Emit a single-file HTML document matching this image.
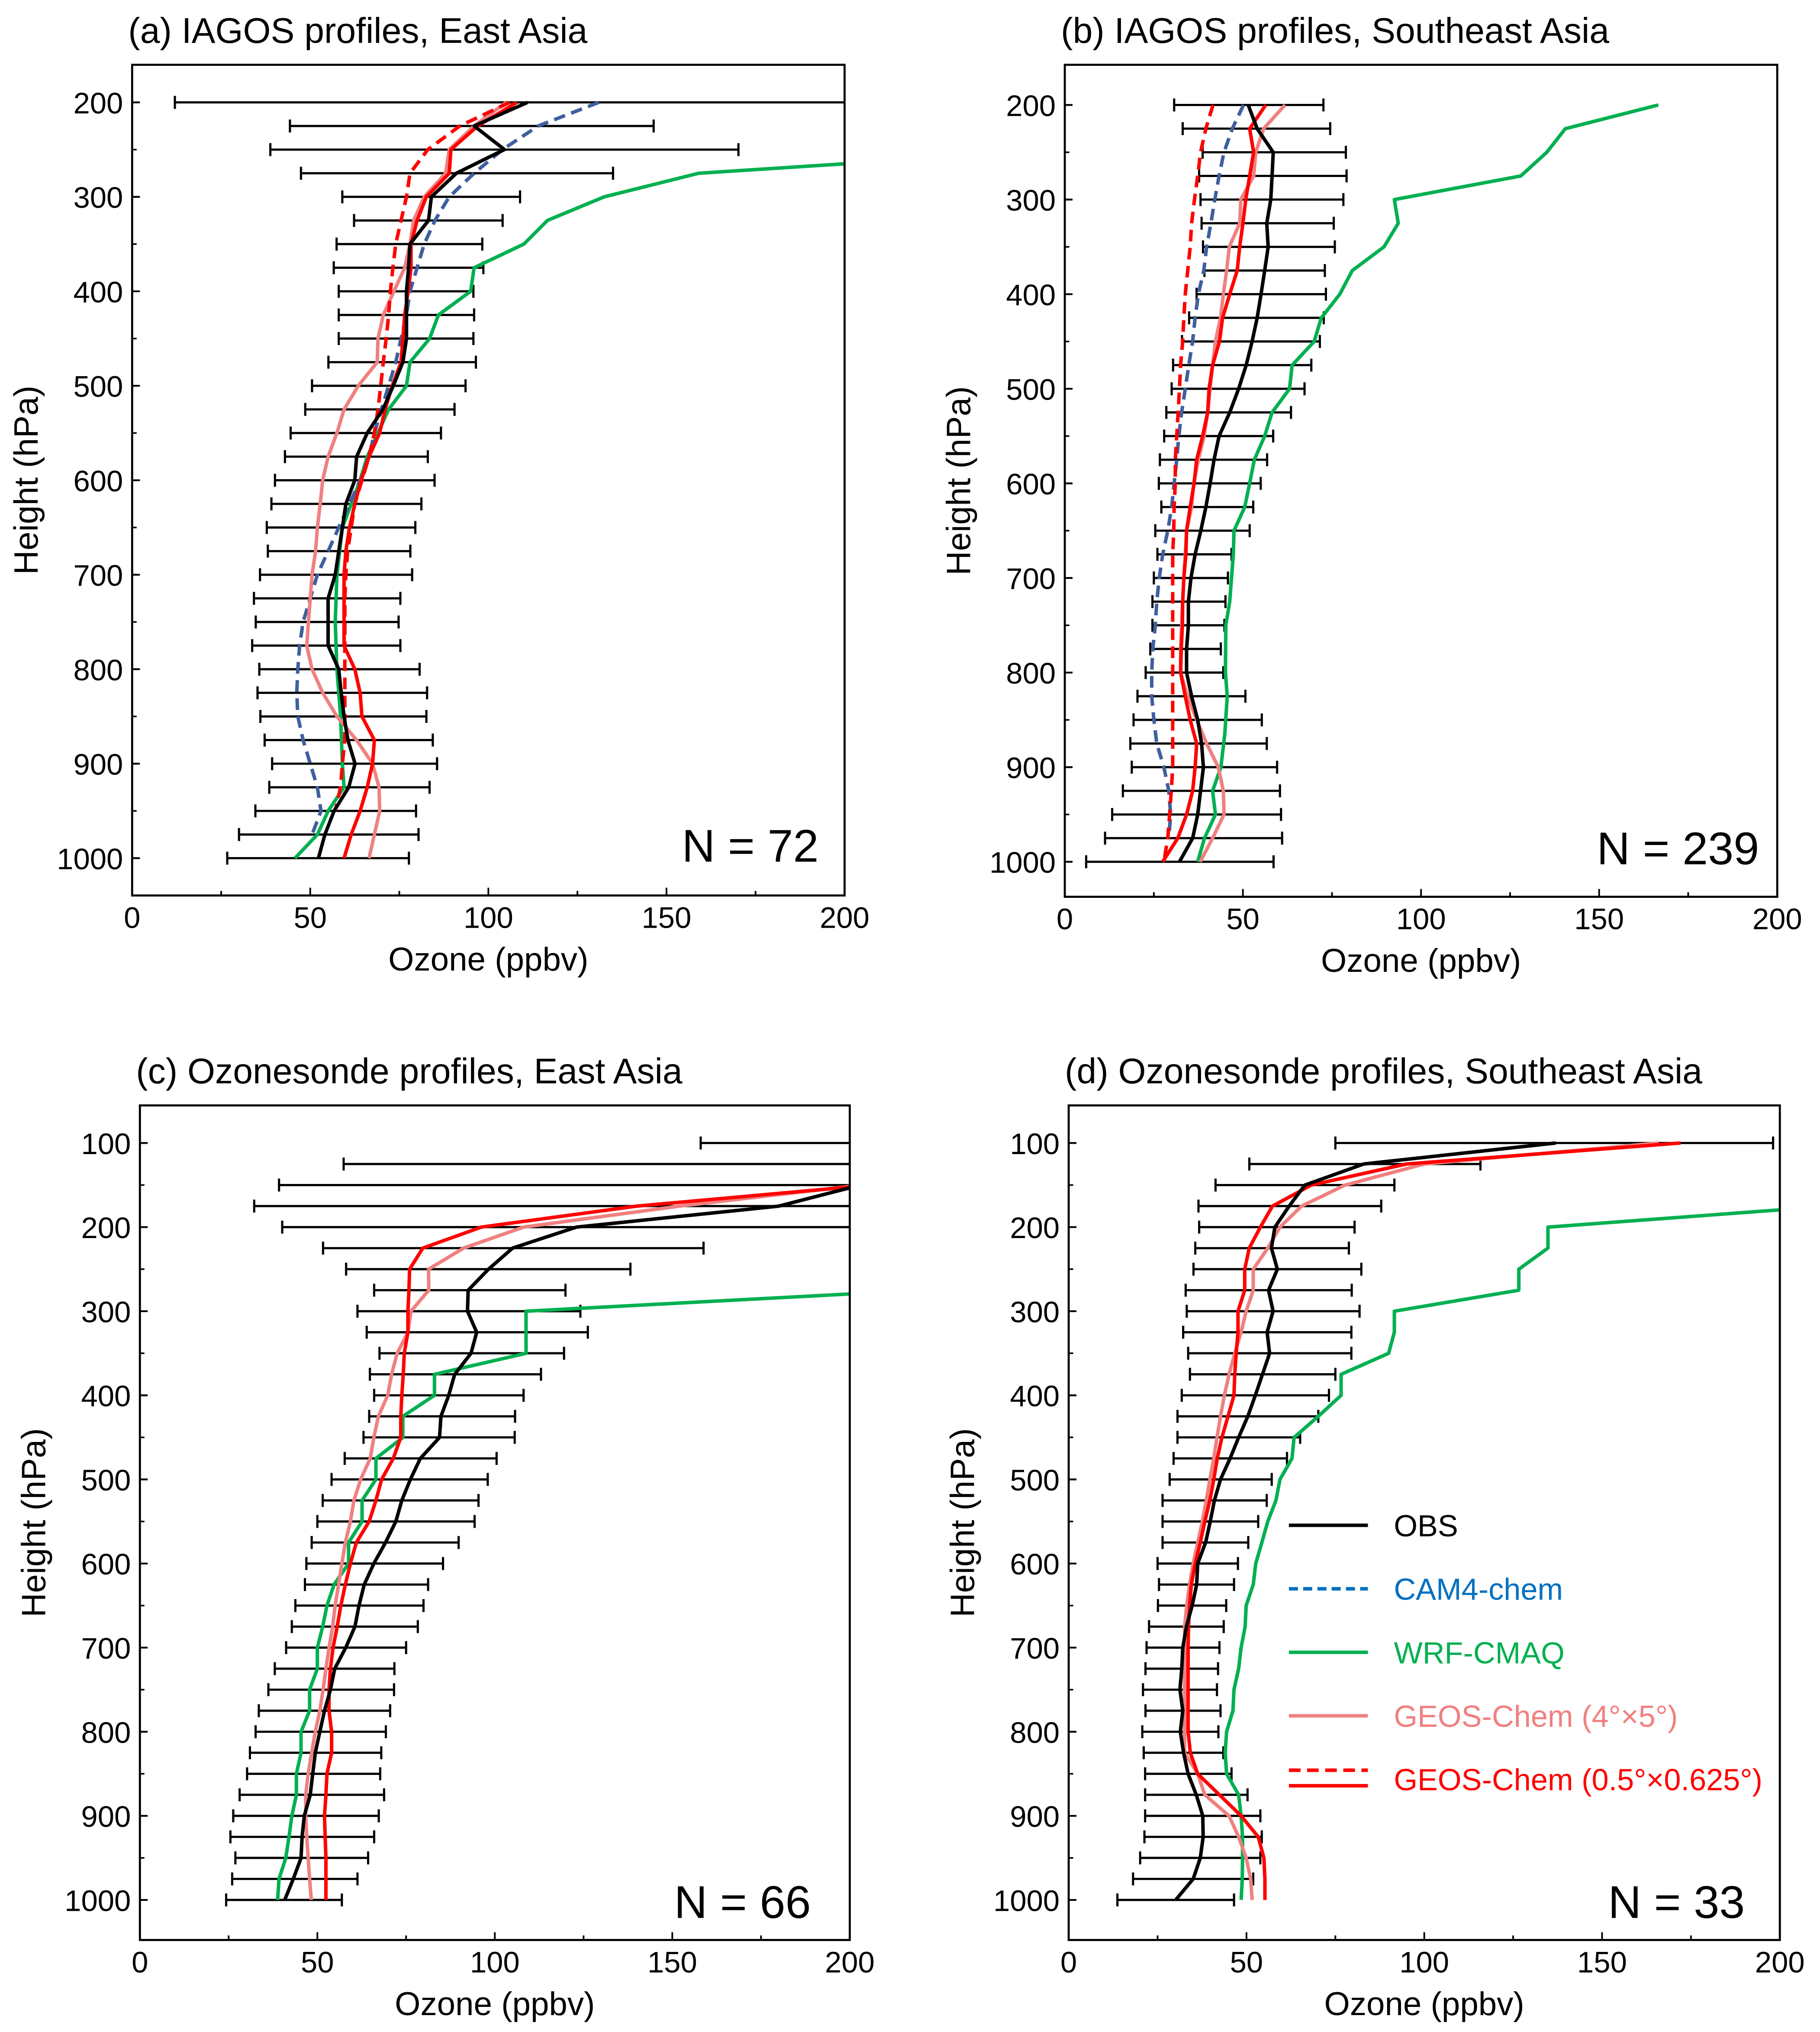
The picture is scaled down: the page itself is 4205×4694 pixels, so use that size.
<!DOCTYPE html>
<html><head><meta charset="utf-8"><style>
html,body{margin:0;padding:0;background:#fff;}
svg{display:block;font-family:"Liberation Sans",Arial,sans-serif;}
</style></head><body>
<svg id="fig" width="4205" height="4694" viewBox="0 0 1405 1568" preserveAspectRatio="none" xmlns="http://www.w3.org/2000/svg"></svg>
<script>
// ---- shared levels ----
const levIAGOS=[200,225,250,275,300,325,350,375,400,425,450,475,500,525,550,575,600,625,650,675,700,725,750,775,800,825,850,875,900,925,950,975,1000];
const levSonde=[100,125,150,175,200,225,250,275,300,325,350,375,400,425,450,475,500,525,550,575,600,625,650,675,700,725,750,775,800,825,850,875,900,925,950,975,1000];
const xTickVals=[0,50,100,150,200];
// ---- panel a ----
const aObs=[111,96,104.5,91,84,83.2,78,77.6,77,77,77,76,73.3,70.4,66,63,62.5,60,59,58,57,55,55,55,58,58.7,59.5,60.6,62.6,60.8,56.7,54.1,52.3];
const aObsLow=[12,44.3,38.8,47.4,59,62.3,57.4,56.6,58,58,58,55.1,50.5,48.6,44.5,42.9,40.1,39.1,37.8,38.1,35.9,34.2,34.7,33.7,35.7,35.2,36,37.2,39.3,38.5,34.6,30,26.7];
const aObsHigh=[210,146.4,170.2,135,108.9,104,98.3,98.6,95.8,96,95.8,96.5,93.6,90.5,86.7,83,84.9,81.2,79.5,78.1,78.6,75.3,74.8,75.3,80.7,82.8,82.6,84.4,85.6,83.5,79.7,80.4,77.7];
const aCam=[131,114,104,96,89,85,82,80,78,77,75.5,74,72,70,68,66.5,64,61,58,55,52,50,48,47,46.5,46.2,46.5,48,50,52,53,50.5,null];
const aWrfP=[265,275,300,325,350,375,400,425,450,475,500,525,550,575,600,650,700,750,800,850,900,925,950,975,1000];
const aWrf=[200,159,132.5,116.6,110,96,95,86,83.5,78,77,72,69,66,64,59,57.5,57,57.5,58.5,59,59.5,55,52,45.7];
const aPink=[105,96,89,88,82,79,78,76.5,73.5,70.5,69,68.8,63.5,59.5,57.5,55,53.5,52.8,52,51.5,50.5,50,49.5,49,50.5,53.5,57.5,63,67.5,69.3,69.5,68,66.5];
const aRed=[108,97,89.5,89,82.6,80,78.3,78.3,77.5,76.5,76,75.5,73,71,69.5,66.5,64.3,62.5,61,60,59.5,59.5,59.5,59.5,62.5,64,64.5,68,67.5,66,64,61.5,59.5];
const aRedDash=[106,92,83,78,77,75.5,74,73.2,72.5,72,71.3,70.5,69.8,69,68,66.5,64.5,62.5,61.5,60.5,60,59.7,59.7,59.7,59.7,59.7,59.7,59.7,59,58.5,57,null,null];
// ---- panel b ----
const bObs=[51.5,54,58.5,58.2,57.8,56.7,57.1,56.1,55.1,54,52.6,50.9,48.8,46.3,43.3,41.9,40.8,39.6,38.2,36.6,35.4,34.7,34.7,34.2,34.2,35.6,37.3,38.4,38.9,38.1,37.3,35.9,32.2];
const bObsLow=[30.7,33.1,38.7,37.7,38.1,38.4,38.8,39.2,37,34.9,32.9,30.4,30,28.5,27.9,26.7,26.4,27.1,25.4,26,25,24.6,24.6,24,22.7,20.4,19.3,18.4,18.8,16.3,13.3,11.3,6];
const bObsHigh=[72.6,74.5,78.9,79.1,78.2,75.5,75.8,73,73.3,72.7,71.6,69.2,67.3,63.5,58.5,56.8,55,52.9,51.9,46.8,45.8,45.1,44.8,43.8,44.5,50.7,55.3,56.7,59.6,60.4,60.7,61,58.6];
const bCam=[50.2,47,44.7,43.3,42.1,41,39.8,39,37.5,36.6,35.9,34.8,33.8,32.8,32,31.4,30.7,30,28.9,27.5,26.5,25.8,25.4,24.7,24.4,24.4,25,25.8,27.8,29.2,29.7,29.2,null];
const bWrfP=[200,225,250,275,300,325,350,375,400,425,450,475,500,525,550,575,600,625,650,675,725,750,800,825,865,900,925,950,975,1000];
const bWrf=[166.6,140.5,135.3,128,92.5,93.6,89.6,80.7,77.2,72,70,63.8,63.1,58.2,56.1,53.2,51.9,50.5,47.5,47.3,46.3,45.2,45.1,45.6,44.9,43.8,41.5,42.3,39.2,37.3];
const bPink=[61.8,55.8,53.6,53,49.4,49.1,46.2,45.4,44.5,43.7,42.3,41.5,40.8,40.1,39.1,37.5,36.2,35.6,34.2,33.8,33.4,33.1,32.8,32.5,32.5,34.5,37,39.8,43.1,44.5,44.7,41.5,38];
const bRed=[56.4,51.9,53,51.9,50.8,50,49.1,48.4,46.3,44.3,43.4,41.5,40.5,40.1,38.7,37,36.3,35.2,34.2,34,33.4,33.1,33,32.7,32.5,33.8,35.2,37,36.6,35.9,34.2,31.7,27.5];
const bRedDash=[41.6,39.6,38.1,37.3,36.4,35.6,35.2,34.5,33.8,33.4,33.1,32.5,32.2,31.8,31.4,31,31,30.7,30.6,30.3,30.3,30.3,30.3,30.3,30.3,30.3,30.3,30.3,30.3,29.9,29.4,28.9,27.8];
// ---- panel c ----
const cObs=[null,null,203,180,123,105,98.2,92.5,92.3,94.9,93.3,88.7,87,84.8,84.4,79,76.2,73.8,72.1,69.2,65.9,63.2,61.7,60.6,58,54.9,53.7,52,50.7,49.4,48.7,48,46.3,45.7,45.4,43.2,40.8];
const cObsLow=[158,57.4,39.2,32.2,40.1,51.6,58.1,66,61.3,63.9,67.5,64.8,66,64.6,63,57.7,54,51.5,50,48.4,46.9,46.5,43.8,42.8,41.2,38,36.2,33.5,32.6,31,30.2,28.1,26.3,25.5,26.9,26,24.3];
const cObsHigh=[260,260,260,260,260,158.8,138.2,119.9,124.1,126.2,119.5,113,108.1,105.7,105.6,100.5,98,95.4,94.3,89.8,85.4,81.2,79.9,78.3,75,71.7,71.6,70.5,69.3,68,67.7,68.8,67.3,66,64.3,61.3,56.9];
const cWrfP=[279.5,300,325,350,375,400,425,450,475,500,525,550,575,600,625,650,675,700,725,750,775,800,825,850,875,900,925,950,975,1000];
const cWrf=[200,108.8,108.8,108.8,83,83,74.1,74.1,66.5,66.5,62.6,62.6,58.8,58.8,54.7,52.7,51.5,50,50,47.8,47.8,45.4,45.4,44.1,44.1,42.8,42,41.1,39.2,38.8];
const cPink=[null,null,203,152,108.1,91.2,81.3,81.4,76.4,75.5,72.5,70.9,69.8,67.2,65.9,64.9,62.2,60.3,59.3,57.9,56.9,56,55,54.3,53.3,52.4,51.6,50.7,49.4,48.4,47.4,46.7,46.7,47,47.4,47.8,48.3];
const cRed=[null,null,206,140,96.2,79.7,76,75.8,75.5,75.5,74.5,74.2,73.8,73.5,73.5,71.4,68.1,66.5,64.6,61,59.3,57.9,56.6,55.6,54.4,53.7,53.3,53.3,54,54,52.7,52.4,52,52.2,52.4,52.4,52.4];
// ---- panel d ----
const dObs=[137,83,66.4,62,58,57,58.7,56.2,57.5,55.8,56.5,54.5,52.5,50.4,47.8,45.4,42.7,41,39.8,38.5,36.3,36,34.7,33.1,32.1,31.8,31.3,32.1,31.4,32.3,33.6,35.9,37.7,37.8,37,35,30.1];
const dObsLow=[75,50.8,41.3,36.5,36.7,35.6,35.1,32.9,33.2,32.2,33.6,34.1,31.8,30.6,30.6,29.5,28.4,26.4,26.4,26.4,25,25.4,25.1,22.6,21.9,21.6,20.9,21.6,20.7,21.1,21.5,21.5,21.5,21.3,20.1,18.1,13.7];
const dObsHigh=[198.1,115.8,91.6,87.9,80.4,78.8,82.3,79.6,81.8,79.5,79.5,75,73.2,70.2,65.1,61.4,57.1,55.7,53.3,50.5,47.6,46.5,44.3,43.6,42.4,42,41.7,42.7,42.1,43.5,45.8,50.3,53.9,54.3,53.9,51.9,46.5];
const dWrfP=[179.5,200,225,250,275,300,325,350,375,400,425,450,475,500,525,550,575,600,625,650,675,700,725,750,775,800,825,850,875,900,925,950,975,1000];
const dWrf=[200,134.8,134.8,126.6,126.6,91.6,91.6,90,76.6,76.6,70.2,63.4,62.8,59.4,58.3,56,54.3,52.6,51.9,49.9,49.6,48.5,47.8,46.5,46.2,44.4,44,44.4,47.8,48.5,48.9,48.9,48.8,48.5];
const dPink=[166,100,77.7,65.5,59.4,56,51.9,51.9,49.9,48.5,46.7,45.1,43.8,42.7,41.7,40.8,39.7,38.7,37.6,36.3,35,34,33.2,32.6,32.6,32.6,32.6,32.6,32.6,32.6,36.3,38.3,45.1,47.8,49.9,51.2,51.6];
const dRed=[172.1,95,68.2,57.3,53.9,50.8,49.5,49.5,47.6,47.6,47.1,46.7,46.5,44.8,43.1,41.8,40.8,39.7,38.3,37,35.6,34.5,34,33.7,33.6,33.6,33.6,33.6,33.6,34.2,36.3,42.4,48.5,53.3,54.9,55.2,55.2];
// ---- legend ----
const legendLabels=["OBS","CAM4-chem","WRF-CMAQ","GEOS-Chem (4°×5°)","GEOS-Chem (0.5°×0.625°)"];

const NS="http://www.w3.org/2000/svg";
const svg=document.getElementById('fig');
function mk(tag,attrs,parent){const e=document.createElementNS(NS,tag);for(const k in attrs)e.setAttribute(k,attrs[k]);(parent||svg).appendChild(e);return e;}
const C={obs:"#000",cam:"#3f5f9e",wrf:"#00b050",pink:"#f08080",red:"#ff0000"};

const panels=[
 {id:'a',title:"(a) IAGOS profiles, East Asia",N:"N = 72",x0:102,x1:652,top:50,bot:691,p0:200,y0:79,k:0.729,majors:[200,300,400,500,600,700,800,900,1000],minors:[250,350,450,550,650,750,850,950],
  lev:levIAGOS,obs:aObs,lo:aObsLow,hi:aObsHigh,cam:aCam,wrfP:aWrfP,wrf:aWrf,pink:aPink,red:aRed,redDash:aRedDash,nx:632,ny:665},
 {id:'b',title:"(b) IAGOS profiles, Southeast Asia",N:"N = 239",x0:822,x1:1372,top:50,bot:692,p0:200,y0:81,k:0.73,majors:[200,300,400,500,600,700,800,900,1000],minors:[250,350,450,550,650,750,850,950],
  lev:levIAGOS,obs:bObs,lo:bObsLow,hi:bObsHigh,cam:bCam,wrfP:bWrfP,wrf:bWrf,pink:bPink,red:bRed,redDash:bRedDash,nx:1358,ny:667},
 {id:'c',title:"(c) Ozonesonde profiles, East Asia",N:"N = 66",x0:108,x1:656,top:853,bot:1497,p0:100,y0:882,k:0.649,majors:[100,200,300,400,500,600,700,800,900,1000],minors:[150,250,350,450,550,650,750,850,950],
  lev:levSonde,obs:cObs,lo:cObsLow,hi:cObsHigh,cam:null,wrfP:cWrfP,wrf:cWrf,pink:cPink,red:cRed,redDash:null,nx:626,ny:1480},
 {id:'d',title:"(d) Ozonesonde profiles, Southeast Asia",N:"N = 33",x0:825,x1:1374,top:853,bot:1497,p0:100,y0:882,k:0.649,majors:[100,200,300,400,500,600,700,800,900,1000],minors:[150,250,350,450,550,650,750,850,950],
  lev:levSonde,obs:dObs,lo:dObsLow,hi:dObsHigh,cam:null,wrfP:dWrfP,wrf:dWrf,pink:dPink,red:dRed,redDash:null,nx:1347,ny:1480}
];

const defs=mk('defs',{});
panels.forEach(P=>{
  const X=v=>P.x0+(P.x1-P.x0)*v/200;
  const Y=p=>P.y0+(p-P.p0)*P.k;
  const g=mk('g',{});
  
  
  const cp=mk('clipPath',{id:'clip'+P.id},defs);
  mk('rect',{x:P.x0,y:P.top,width:P.x1-P.x0,height:P.bot-P.top},cp);
  // title
  const t=mk('text',{x:P.x0-3,y:P.top-17,'font-size':27.5},g);t.textContent=P.title;
  
  
  // y ticks
  P.majors.forEach(p=>{mk('line',{x1:P.x0,x2:P.x0+6,y1:Y(p),y2:Y(p),stroke:'#000','stroke-width':1.4},g);
    const l=mk('text',{x:P.x0-7,y:Y(p)+8.5,'font-size':23,'text-anchor':'end'},g);l.textContent=p;
    
    });
  P.minors.forEach(p=>mk('line',{x1:P.x0,x2:P.x0+3.5,y1:Y(p),y2:Y(p),stroke:'#000','stroke-width':1.2},g));
  // x ticks
  for(let v=0;v<=200;v+=25){const maj=v%50===0;mk('line',{x1:X(v),x2:X(v),y1:P.bot,y2:P.bot-(maj?6:3.5),stroke:'#000','stroke-width':1.3},g);}
  xTickVals.forEach(v=>{const l=mk('text',{x:X(v),y:P.bot+25,'font-size':23,'text-anchor':'middle'},g);l.textContent=v;
    
    });
  const xt=mk('text',{x:(P.x0+P.x1)/2,y:P.bot+58,'font-size':25.5,'text-anchor':'middle'},g);xt.textContent="Ozone (ppbv)";
  
  
  const yc=(P.top+P.bot)/2, yx=P.x0-73;
  const yt=mk('text',{x:yx,y:yc,'font-size':26,'text-anchor':'middle',transform:`rotate(-90 ${yx} ${yc})`},g);yt.textContent="Height (hPa)";
  
  
  // plot content
  const pg=mk('g',{'clip-path':`url(#clip${P.id})`},g);
  // error bars
  P.lev.forEach((p,i)=>{const y=Y(p);const bg=mk('g',{stroke:'#000','stroke-width':1.7},pg);
    
    
    mk('line',{x1:X(P.lo[i]),x2:X(P.hi[i]),y1:y,y2:y},bg);
    mk('line',{x1:X(P.lo[i]),x2:X(P.lo[i]),y1:y-5,y2:y+5},bg);
    mk('line',{x1:X(P.hi[i]),x2:X(P.hi[i]),y1:y-5,y2:y+5},bg);});
  function series(ps,vs,color,dash,name){
    const pts=[];ps.forEach((p,i)=>{if(vs[i]!==null&&vs[i]!==undefined)pts.push(X(vs[i]).toFixed(1)+','+Y(p).toFixed(1));});
    const e=mk('polyline',{points:pts.join(' '),fill:'none',stroke:color,'stroke-width':2.7,'stroke-linejoin':'round'},pg);
    if(dash)e.setAttribute('stroke-dasharray',dash);
    
    
  }
  series(P.wrfP,P.wrf,C.wrf,null,'wrf-cmaq-line');
  if(P.cam)series(P.lev,P.cam,C.cam,'9,5','cam4-chem-line');
  series(P.lev,P.pink,C.pink,null,'geos-chem-4x5-line');
  if(P.redDash)series(P.lev,P.redDash,C.red,'9,5','geos-chem-05-dashed-line');
  series(P.lev,P.red,C.red,null,'geos-chem-05-line');
  series(P.lev,P.obs,C.obs,null,'obs-line');
  // frame
  const fr=mk('rect',{x:P.x0,y:P.top,width:P.x1-P.x0,height:P.bot-P.top,fill:'none',stroke:'#000','stroke-width':1.6},g);
  
  
  const n=mk('text',{x:P.nx,y:P.ny,'font-size':35.5,'text-anchor':'end'},g);n.textContent=P.N;
  
  
});
// legend in panel d
const lg=mk('g',{});


const legColors=["#000","#0070c0","#00b050","#f08080","#ff0000"];
const legDash=[null,'7,4',null,null,null];
legendLabels.forEach((lab,i)=>{
  const y=1177+i*49;
  const eg=mk('g',{},lg);
  
  
  if(i===4){
    mk('line',{x1:995,x2:1056,y1:y-7,y2:y-7,stroke:legColors[i],'stroke-width':2.7,'stroke-dasharray':'9,5'},eg);
    mk('line',{x1:995,x2:1056,y1:y+5,y2:y+5,stroke:legColors[i],'stroke-width':2.7},eg);
  }else{
    const l=mk('line',{x1:995,x2:1056,y1:y,y2:y,stroke:legColors[i],'stroke-width':2.7},eg);
    if(legDash[i])l.setAttribute('stroke-dasharray',legDash[i]);
  }
  const t=mk('text',{x:1076,y:y+8.5,'font-size':23.5,fill:legColors[i]},eg);t.textContent=lab;
});
</script>
</body></html>
